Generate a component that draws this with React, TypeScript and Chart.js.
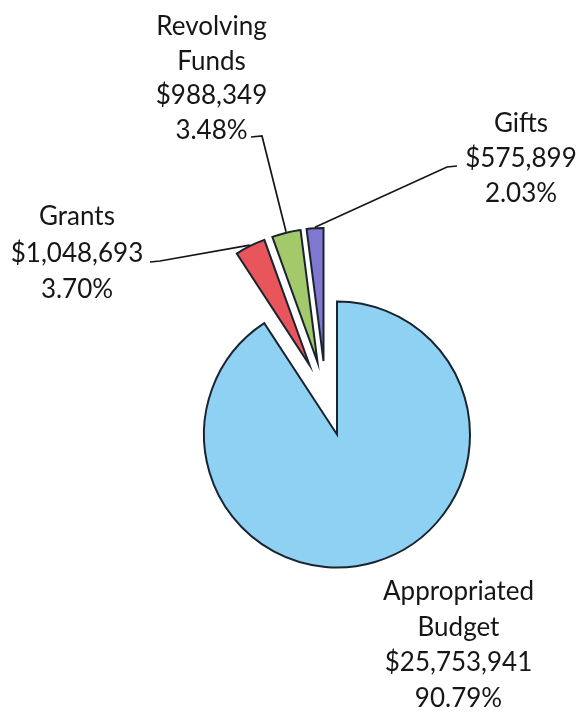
import React, { useEffect, useRef } from "react";
import { Chart, registerables } from "chart.js";

Chart.register(...registerables);

// ---- data ----
const CATEGORIES = ["Appropriated Budget", "Grants", "Revolving Funds", "Gifts"];
const AMOUNTS = [25753941, 1048693, 988349, 575899];

// ---- style / layout ----
const COLORS = ["#8fd1f2", "#e8555a", "#a3c96a", "#8078d0"];
const BORDER = "#1a2330";
const W = 583;
const H = 712;
const CENTER = { x: 337, y: 434.5 };
const RADIUS = 133;
// explosion vector of each slice (pixels from the pie centre)
const EXPLODE: [number, number][] = [
  [0, 0],
  [-27.5, -69.5],
  [-19.5, -72.5],
  [-13.5, -73.5],
];
const LABEL_LAYOUT = [
  { x: 458.5, y: 600, lh: 35.5, leader: null as null | [number, number][] },
  { x: 77, y: 225, lh: 36.5, leader: [[150, 262], [160, 261]] as [number, number][] },
  { x: 211.5, y: 35, lh: 34.5, leader: [[251, 137], [262, 136]] as [number, number][] },
  { x: 521, y: 131.7, lh: 35, leader: [[457, 166], [447, 167]] as [number, number][] },
];
const FONT = "26px Lato, 'Open Sans', sans-serif";

const TOTAL = AMOUNTS.reduce((a, b) => a + b, 0);

function makeLabelPlugin(k: number) {
  return {
    id: "sliceLabel" + k,
    afterDatasetsDraw(chart: any) {
      const ctx: CanvasRenderingContext2D = chart.ctx;
      const arc = chart.getDatasetMeta(0).data[k];
      const p = arc.getProps(["x", "y", "startAngle", "endAngle", "outerRadius"], true);
      const mid = (p.startAngle + p.endAngle) / 2;
      const lay = LABEL_LAYOUT[k];
      ctx.save();
      if (lay.leader) {
        const ex = p.x + Math.cos(mid) * (p.outerRadius + 1);
        const ey = p.y + Math.sin(mid) * (p.outerRadius + 1);
        ctx.beginPath();
        ctx.moveTo(lay.leader[0][0], lay.leader[0][1]);
        ctx.lineTo(lay.leader[1][0], lay.leader[1][1]);
        ctx.lineTo(ex, ey);
        ctx.strokeStyle = "#151515";
        ctx.lineWidth = 1.7;
        ctx.stroke();
      }
      const lines = [
        ...CATEGORIES[k].split(" "),
        "$" + AMOUNTS[k].toLocaleString("en-US"),
        ((AMOUNTS[k] / TOTAL) * 100).toFixed(2) + "%",
      ];
      ctx.font = FONT;
      ctx.fillStyle = "#161616";
      ctx.textAlign = "center";
      ctx.textBaseline = "alphabetic";
      lines.forEach((t, i) => ctx.fillText(t, lay.x, lay.y + i * lay.lh));
      ctx.restore();
    },
  };
}

function makeChart(canvas: HTMLCanvasElement, k: number) {
  const cx = CENTER.x + EXPLODE[k][0];
  const cy = CENTER.y + EXPLODE[k][1];
  const half = 150;
  return new Chart(canvas, {
    type: "pie",
    data: {
      labels: CATEGORIES,
      datasets: [
        {
          data: AMOUNTS,
          backgroundColor: COLORS.map((c, i) => (i === k ? c : "rgba(0,0,0,0)")),
          borderColor: BORDER,
          borderWidth: AMOUNTS.map((_, i) => (i === k ? 2 : 0)),
          borderJoinStyle: "miter",
          hoverOffset: 0,
          offset: 0,
        } as any,
      ],
    },
    options: {
      animation: false,
      responsive: false,
      maintainAspectRatio: false,
      events: [],
      radius: RADIUS,
      layout: {
        padding: {
          left: cx - half,
          right: W - cx - half,
          top: cy - half,
          bottom: H - cy - half,
        },
      },
      plugins: {
        legend: { display: false },
        tooltip: { enabled: false },
      },
    } as any,
    plugins: [makeLabelPlugin(k)],
  });
}

export default function App() {
  const refs = [
    useRef<HTMLCanvasElement>(null),
    useRef<HTMLCanvasElement>(null),
    useRef<HTMLCanvasElement>(null),
    useRef<HTMLCanvasElement>(null),
  ];
  useEffect(() => {
    const charts = refs.map((r, k) => makeChart(r.current as HTMLCanvasElement, k));
    return () => charts.forEach((c) => c.destroy());
  }, []);
  return (
    <div
      style={{
        position: "fixed",
        left: 0,
        top: 0,
        width: W,
        height: H,
        background: "#ffffff",
        overflow: "hidden",
      }}
    >
      {refs.map((r, k) => (
        <canvas
          key={k}
          ref={r}
          width={W}
          height={H}
          style={{ position: "absolute", left: 0, top: 0, width: W, height: H }}
        />
      ))}
    </div>
  );
}
